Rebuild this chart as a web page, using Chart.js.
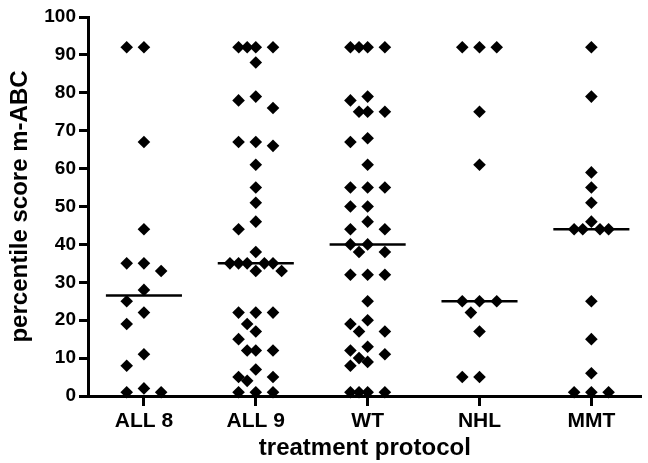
<!DOCTYPE html>
<html>
<head>
<meta charset="utf-8">
<script src="https://cdn.jsdelivr.net/npm/chart.js@4/dist/chart.umd.min.js"></script>
<style>
  html, body { margin: 0; padding: 0; background: #ffffff; }
</style>
</head>
<body>
<canvas id="chart" width="648" height="463"></canvas>
<script>
// Treatment protocols along the x axis
const CATEGORIES = ['ALL 8', 'ALL 9', 'WT', 'NHL', 'MMT'];

// m-ABC percentile scores per protocol
const ALL8 = [92, 92, 67, 44, 35, 35, 33, 28, 25, 22, 19, 11, 8, 2, 1, 1];
const ALL9 = [92, 92, 92, 92, 88, 79, 78, 76, 67, 67, 66, 61, 55, 51, 46, 44, 38,
              35, 35, 35, 35, 35, 33, 33, 22, 22, 22, 19, 17, 15, 12, 12, 12, 7, 5, 5, 4, 1, 1, 1];
const WT   = [92, 92, 92, 92, 79, 78, 75, 75, 75, 68, 67, 61, 55, 55, 55, 50, 50, 46,
              44, 44, 40, 40, 38, 38, 32, 32, 32, 25, 20, 19, 17, 17, 13, 12, 11, 10, 9, 8, 1, 1, 1, 1];
const NHL  = [92, 92, 92, 75, 61, 25, 25, 25, 22, 17, 5, 5];
const MMT  = [92, 79, 59, 55, 51, 46, 44, 44, 44, 44, 25, 15, 6, 1, 1, 1];

const GROUPS = [ALL8, ALL9, WT, NHL, MMT];

// y axis tick values
const Y_TICKS = [0, 10, 20, 30, 40, 50, 60, 70, 80, 90, 100];

const FONT = "'Liberation Sans', Arial, Helvetica, sans-serif";
const SLOT = 0.077;       // horizontal slot width (category units)
const MIN_GAP = 3.2;      // values closer than this must not share a slot
const HALF_MEDIAN = 0.34; // half-length of the median bar

// Column-scatter spreading: each point takes the first free slot
function spread(values) {
  const order = [0, -2, 2, -1, 1, -3, 3, -4, 4, -5, 5];
  const placed = [];
  return values.map(v => {
    let slot = order[order.length - 1];
    for (const s of order) {
      const clash = placed.some(p => p.s === s && Math.abs(p.v - v) < MIN_GAP);
      if (!clash) { slot = s; break; }
    }
    placed.push({ v, s: slot });
    return slot;
  });
}

function median(values) {
  const s = [...values].sort((a, b) => a - b);
  const m = Math.floor(s.length / 2);
  return s.length % 2 ? s[m] : (s[m - 1] + s[m]) / 2;
}

const datasets = [];
GROUPS.forEach((vals, i) => {
  const slots = spread(vals);
  datasets.push({
    type: 'scatter',
    label: CATEGORIES[i],
    data: vals.map((v, k) => ({ x: i + slots[k] * SLOT, y: v })),
    pointStyle: 'rectRot',
    pointRadius: 6.3,
    pointHoverRadius: 6.3,
    backgroundColor: '#000000',
    borderColor: '#000000',
    borderWidth: 0,
    clip: false,
    order: 1
  });
  const med = median(vals);
  datasets.push({
    type: 'line',
    label: CATEGORIES[i] + ' median',
    data: [{ x: i - HALF_MEDIAN, y: med }, { x: i + HALF_MEDIAN, y: med }],
    borderColor: '#000000',
    borderWidth: 2.5,
    pointRadius: 0,
    fill: false,
    clip: false,
    order: 2
  });
});

new Chart(document.getElementById('chart'), {
  type: 'scatter',
  data: { datasets },
  options: {
    responsive: false,
    animation: false,
    devicePixelRatio: 1,
    layout: { padding: { top: 17, right: 0, left: 0, bottom: 0 } },
    plugins: { legend: { display: false }, tooltip: { enabled: false } },
    scales: {
      x: {
        type: 'linear',
        min: -0.5,
        max: 4.45,
        afterBuildTicks: axis => { axis.ticks = CATEGORIES.map((_, i) => ({ value: i })); },
        afterFit: axis => { axis.height = 67; },
        ticks: {
          callback: v => CATEGORIES[v],
          color: '#000000',
          font: { family: FONT, size: 21, weight: 'bold' },
          padding: 3,
          maxRotation: 0
        },
        grid: { drawOnChartArea: false, drawTicks: true, tickLength: 10, tickWidth: 3, tickColor: '#000000' },
        border: { display: true, color: '#000000', width: 3 },
        title: {
          display: true,
          text: 'treatment protocol',
          color: '#000000',
          font: { family: FONT, size: 24, weight: 'bold' },
          padding: { top: 0, bottom: 0 }
        }
      },
      y: {
        min: 0,
        max: 100,
        afterBuildTicks: axis => { axis.ticks = Y_TICKS.map(v => ({ value: v })); },
        afterFit: axis => { axis.width = 88; },
        ticks: {
          color: '#000000',
          font: { family: FONT, size: 19, weight: 'bold' },
          padding: 3
        },
        grid: { drawOnChartArea: false, drawTicks: true, tickLength: 9, tickWidth: 3, tickColor: '#000000' },
        border: { display: true, color: '#000000', width: 3 },
        title: {
          display: true,
          text: 'percentile score m-ABC',
          color: '#000000',
          font: { family: FONT, size: 24, weight: 'bold' },
          padding: { top: 6, bottom: 0 }
        }
      }
    }
  }
});
</script>
</body>
</html>
